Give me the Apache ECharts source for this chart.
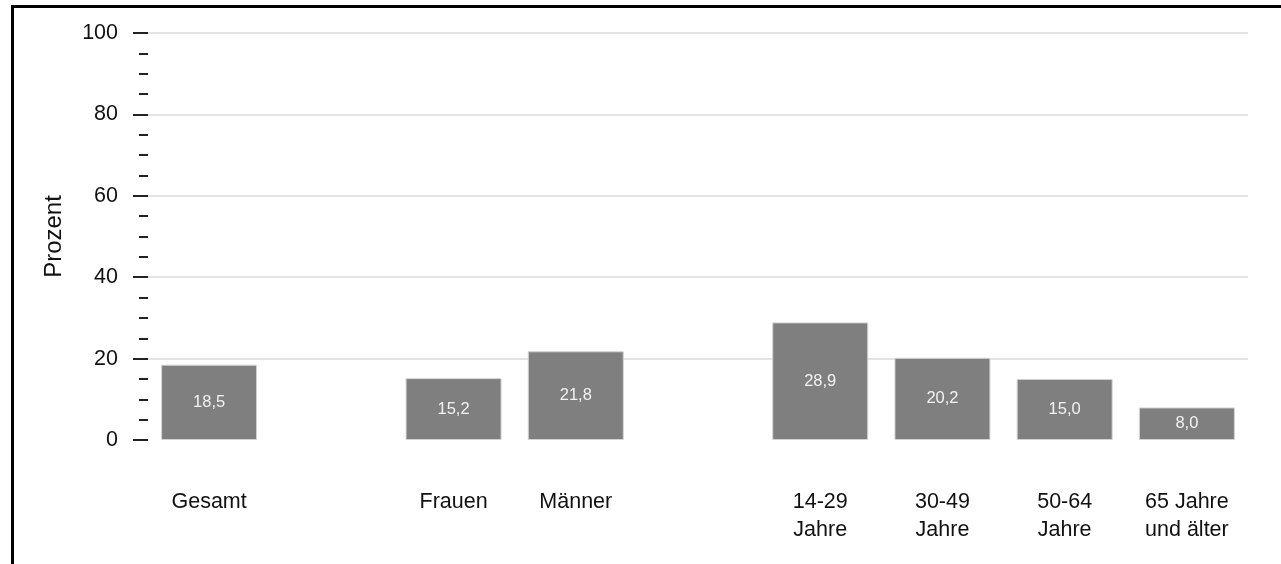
<!DOCTYPE html>
<html>
<head>
<meta charset="utf-8">
<script src="https://cdn.jsdelivr.net/npm/echarts@6/dist/echarts.min.js"></script>
<style>
html,body{margin:0;padding:0;background:#fff;}
#chart{width:1281px;height:564px;}
</style>
</head>
<body>
<div id="chart"></div>
<script>
const categories = ['Gesamt', '', 'Frauen', 'Männer', '', '14-29\nJahre', '30-49\nJahre', '50-64\nJahre', '65 Jahre\nund älter'];
const values = [18.5, null, 15.2, 21.8, null, 28.9, 20.2, 15.0, 8.0];
const yAxisName = 'Prozent';
const yTicks = [0, 20, 40, 60, 80, 100];

const FONT = '"Liberation Sans", Arial, sans-serif';
const chart = echarts.init(document.getElementById('chart'));
const grid = {left: 148, right: 33, top: 33, bottom: 124};

chart.setOption({
  animation: false,
  textStyle: {fontFamily: FONT},
  grid: grid,
  xAxis: {
    type: 'category',
    data: categories,
    axisLine: {show: false},
    axisTick: {show: false},
    axisLabel: {
      interval: 0,
      margin: 48,
      fontSize: 21.5,
      lineHeight: 28,
      color: '#111',
      fontFamily: FONT
    }
  },
  yAxis: {
    type: 'value',
    min: yTicks[0],
    max: yTicks[yTicks.length - 1],
    interval: 20,
    name: yAxisName,
    nameLocation: 'middle',
    nameGap: 82,
    nameRotate: 90,
    nameTextStyle: {fontSize: 24, color: '#111', fontFamily: FONT},
    axisLine: {show: false},
    axisTick: {show: true, inside: false, length: 15, lineStyle: {color: '#222', width: 2}},
    minorTick: {show: true, splitNumber: 4, length: 9, lineStyle: {color: '#222', width: 2}},
    axisLabel: {
      margin: 30,
      fontSize: 21.5,
      color: '#111',
      fontFamily: FONT,
      formatter: function (v) { return yTicks.indexOf(v) >= 0 ? String(v) : ''; }
    },
    splitLine: {
      show: true,
      lineStyle: {color: ['rgba(0,0,0,0)', '#e3e3e3', '#e3e3e3', '#e3e3e3', '#e3e3e3', '#e3e3e3'], width: 2}
    }
  },
  series: [{
    type: 'bar',
    data: values,
    barWidth: 96,
    itemStyle: {color: '#7f7f7f', borderColor: '#d4d4d4', borderWidth: 1},
    label: {
      show: true,
      position: 'inside',
      color: '#f2f2f2',
      fontSize: 16.5,
      fontFamily: FONT,
      formatter: function (p) { return p.value == null ? '' : p.value.toFixed(1).replace('.', ','); }
    }
  }],
  graphic: [
    {type: 'rect', shape: {x: 11, y: 5, width: 1270, height: 3}, style: {fill: '#000'}, silent: true},
    {type: 'rect', shape: {x: 11, y: 5, width: 3, height: 559}, style: {fill: '#000'}, silent: true}
  ]
});
</script>
</body>
</html>
